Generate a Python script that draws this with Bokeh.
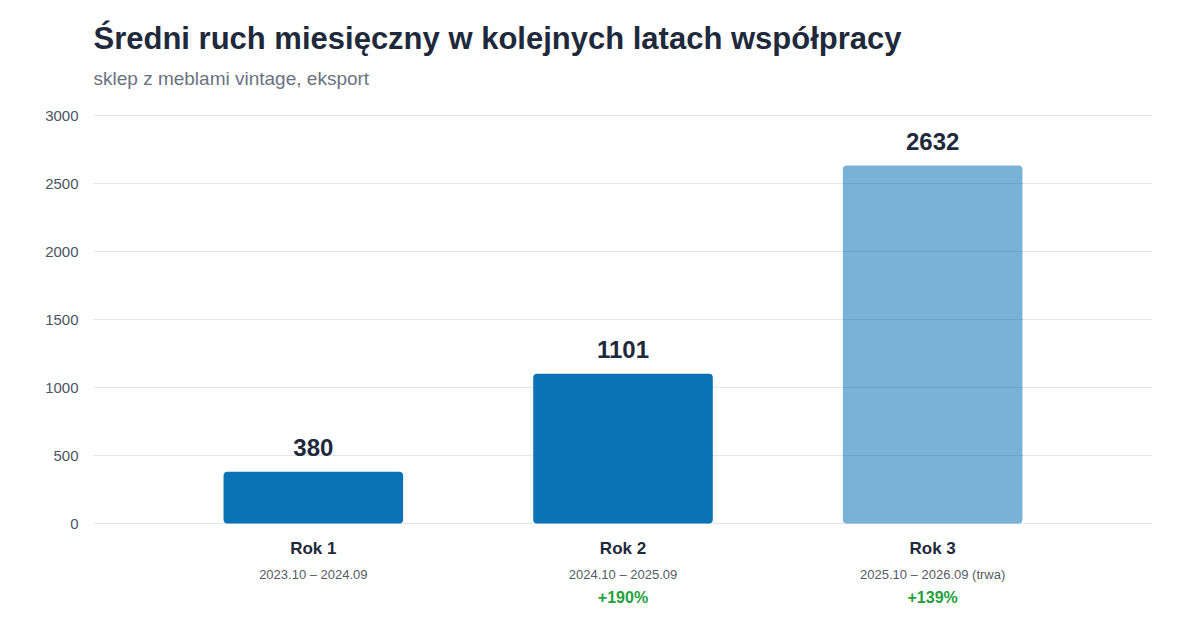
from bokeh.plotting import figure
from bokeh.models import ColumnDataSource, Title, FixedTicker, Range1d
from bokeh.core.properties import value
from bokeh.embed import file_html
from bokeh.resources import INLINE

# data
years = ["Rok 1", "Rok 2", "Rok 3"]
periods = ["2023.10 – 2024.09", "2024.10 – 2025.09", "2025.10 – 2026.09 (trwa)"]
traffic = [380, 1101, 2632]
growth = ["", "+190%", "+139%"]
bar_alpha = [1.0, 1.0, 0.55]
y_ticks = [0, 500, 1000, 1500, 2000, 2500, 3000]

FONT = "Liberation Sans"

src = ColumnDataSource(dict(
    x=list(range(len(years))),
    year=years,
    period=periods,
    traffic=traffic,
    label=[str(v) for v in traffic],
    growth=growth,
    alpha=bar_alpha,
))

p = figure(width=1184, height=608, output_backend="svg", toolbar_location=None,
           x_range=Range1d(-0.71, 2.71), y_range=Range1d(-625, 3162),
           min_border_left=93, min_border_right=32, min_border_bottom=0,
           min_border_top=93)

# subtitle first (closest to plot), then main title
p.add_layout(Title(text="sklep z meblami vintage, eksport", text_font=FONT,
                   text_font_size="19px", text_font_style="normal",
                   text_color="#6b7280", align="left"), "above")
p.add_layout(Title(text="Średni ruch miesięczny w kolejnych latach współpracy",
                   text_font=FONT, text_font_size="31px", text_font_style="bold",
                   text_color="#1e293b", align="left"), "above")

p.vbar(x="x", top="traffic", width=0.58, source=src, fill_color="#0b72b5",
       fill_alpha="alpha", line_color=None, border_radius=4)

# value labels above bars
p.text(x="x", y="traffic", text="label", source=src, text_align="center",
       text_baseline="bottom", y_offset=-16, text_font=value(FONT),
       text_font_size="24px", text_font_style="bold", text_color="#1e293b")

# category labels below bars
p.text(x="x", y=0, text="year", source=src, text_align="center",
       text_baseline="middle", y_offset=25, text_font=value(FONT),
       text_font_size="17px", text_font_style="bold", text_color="#1e293b")
p.text(x="x", y=0, text="period", source=src, text_align="center",
       text_baseline="middle", y_offset=51, text_font=value(FONT),
       text_font_size="13px", text_color="#555b64")
p.text(x="x", y=0, text="growth", source=src, text_align="center",
       text_baseline="middle", y_offset=74, text_font=value(FONT),
       text_font_size="16px", text_font_style="bold", text_color="#23a03c")

p.xaxis.visible = False
p.xgrid.visible = False
p.yaxis.ticker = FixedTicker(ticks=y_ticks)
p.yaxis.bounds = (0, 3000)
p.yaxis.axis_line_color = None
p.yaxis.major_tick_line_color = None
p.yaxis.minor_tick_line_color = None
p.yaxis.major_tick_out = 0
p.yaxis.major_label_standoff = 15
p.yaxis.major_label_text_font = FONT
p.yaxis.major_label_text_font_size = "15px"
p.yaxis.major_label_text_color = "#4b5563"
p.ygrid.grid_line_color = "#e3e5e8"
p.ygrid.grid_line_width = 1
p.outline_line_color = None
p.background_fill_color = "white"
p.border_fill_color = "white"

open("out.html", "w").write(file_html(p, INLINE))
